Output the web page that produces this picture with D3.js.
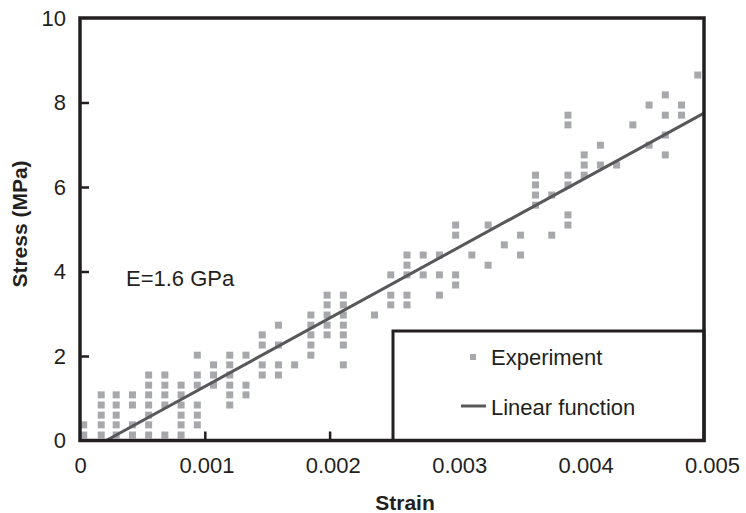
<!DOCTYPE html>
<html>
<head>
<meta charset="utf-8">
<script src="https://cdn.jsdelivr.net/npm/d3@7"></script>
<style>
  html,body{margin:0;padding:0;background:#fff}
  svg{display:block;font-family:"Liberation Sans",Arial,sans-serif}
</style>
</head>
<body>
<div id="chart"></div>
<script>
// Stress-strain test: experimental points + linear fit (E=1.6 GPa)

// strain of each measurement column
const strainCols=[0.00003,0.00017,0.00029,0.00042,0.00055,0.00068,0.00081,0.00094,0.00107,0.00120,
  0.00133,0.00146,0.00159,0.00172,0.00185,0.00198,0.00211,0.00236,0.00249,0.00262,
  0.00275,0.00288,0.00301,0.00314,0.00327,0.00340,0.00353,0.00365,0.00378,0.00391,
  0.00404,0.00417,0.00430,0.00443,0.00456,0.00469,0.00482,0.00495];
// stress values (MPa) measured in each column
const stressCols=[
  [0.13,0.37],
  [0.13,0.37,0.60,0.84,1.08],
  [0.13,0.37,0.60,0.84,1.08],
  [0.13,0.37,0.84,1.08],
  [0.13,0.37,0.60,0.84,1.08,1.31,1.55],
  [0.13,0.84,1.08,1.31,1.55],
  [0.13,0.37,0.60,0.84,1.08,1.31],
  [0.37,0.60,0.84,1.31,1.55,2.02],
  [1.31,1.55,1.79],
  [0.84,1.08,1.31,1.55,1.79,2.02],
  [1.08,1.31,2.02],
  [1.55,1.79,2.26,2.50],
  [1.55,1.79,2.26,2.73],
  [1.79],
  [2.02,2.26,2.50,2.73,2.97],
  [2.50,2.73,2.97,3.21,3.44],
  [1.79,2.26,2.50,2.73,2.97,3.21,3.44],
  [2.97],
  [3.21,3.44,3.92],
  [3.21,3.44,3.92,4.15,4.39],
  [3.92,4.39],
  [3.44,3.92,4.39],
  [3.68,3.92,4.86,5.10],
  [4.39],
  [4.15,5.10],
  [4.63],
  [4.39,4.86],
  [5.57,5.81,6.05,6.28],
  [4.86,5.81],
  [5.10,5.34,6.05,6.28,7.47,7.70],
  [6.28,6.52,6.76],
  [6.52,6.99],
  [6.52],
  [7.47],
  [6.99,7.94],
  [6.76,7.23,7.70,8.18],
  [7.70,7.94],
  [8.65]
];
// linear function end points
const lineStrain=[0.00021,0.005];
const lineStress=[0,7.75];

const xTicks=[0,0.001,0.002,0.003,0.004,0.005];
const yTicks=[0,2,4,6,8,10];
const legendLabels=["Experiment","Linear function"];
const modulusLabel="E=1.6 GPa";

const W=746,H=513;
const m={l:80,r:42,t:18,b:72.5};
const ink="#231f20",markCol="#a7a8ab",lineCol="#58585a";

const svg=d3.select("#chart").append("svg").attr("width",W).attr("height",H);

const x=d3.scaleLinear().domain([0,0.005]).range([m.l,W-m.r]);
const y=d3.scaleLinear().domain([0,10]).range([H-m.b,m.t]);

// points
const pts=[];
strainCols.forEach((s,i)=>stressCols[i].forEach(v=>pts.push({s:s,v:v})));

svg.append("g").selectAll("rect").data(pts).enter().append("rect")
  .attr("x",d=>x(d.s)-3.5).attr("y",d=>y(d.v)-3.5)
  .attr("width",7).attr("height",7)
  .attr("fill",markCol);

// fitted line
const lineData=lineStrain.map((s,i)=>({s:s,v:lineStress[i]}));
svg.append("path").datum(lineData)
  .attr("fill","none").attr("stroke",lineCol).attr("stroke-width",3)
  .attr("d",d3.line().x(d=>x(d.s)).y(d=>y(d.v)));

// axes (ticks pointing inwards)
const xAx=svg.append("g").attr("transform","translate(0,"+y(0)+")")
  .call(d3.axisBottom(x).tickValues(xTicks).tickSizeInner(-9).tickSizeOuter(0).tickPadding(17)
    .tickFormat(d=>d===0?"0":d3.format(".3f")(d)));
xAx.select(".domain").remove();
xAx.selectAll(".tick line").attr("stroke",ink).attr("stroke-width",2.5)
  .filter(d=>d===0||d===0.005).remove();
xAx.selectAll(".tick text").attr("fill",ink).attr("font-size","22px")
  .attr("dx",(d,i)=>i*1.6);

const yAx=svg.append("g").attr("transform","translate("+x(0)+",0)")
  .call(d3.axisLeft(y).tickValues(yTicks).tickSizeInner(-9).tickSizeOuter(0).tickPadding(14));
yAx.select(".domain").remove();
yAx.selectAll(".tick line").attr("stroke",ink).attr("stroke-width",2.5)
  .filter(d=>d===0||d===10).remove();
yAx.selectAll(".tick text").attr("fill",ink).attr("font-size","22px");

// legend box
const lg=svg.append("g");
lg.append("rect").attr("x",393).attr("y",331).attr("width",W-m.r-393).attr("height",y(0)-331)
  .attr("fill","#fff").attr("stroke",ink).attr("stroke-width",3);
lg.append("rect").attr("x",470).attr("y",354).attr("width",6).attr("height",6).attr("fill",markCol);
lg.append("line").attr("x1",461).attr("x2",486).attr("y1",406).attr("y2",406)
  .attr("stroke",lineCol).attr("stroke-width",3);
lg.selectAll("text").data(legendLabels).enter().append("text")
  .attr("x",491).attr("y",(d,i)=>365+i*50)
  .attr("font-size","22px").attr("fill",ink).text(d=>d);

// plot frame
svg.append("rect").attr("x",m.l).attr("y",m.t).attr("width",W-m.l-m.r).attr("height",y(0)-m.t)
  .attr("fill","none").attr("stroke",ink).attr("stroke-width",3.5);

// texts
svg.append("text").attr("x",126).attr("y",286).attr("font-size","22px").attr("fill",ink).text(modulusLabel);
svg.append("text").attr("x",405).attr("y",510).attr("text-anchor","middle")
  .attr("font-size","21px").attr("font-weight","bold").attr("fill",ink).text("Strain");
svg.append("text").attr("transform","translate(27,224) rotate(-90)").attr("text-anchor","middle")
  .attr("font-size","21px").attr("font-weight","bold").attr("fill",ink).text("Stress (MPa)");
</script>
</body>
</html>
